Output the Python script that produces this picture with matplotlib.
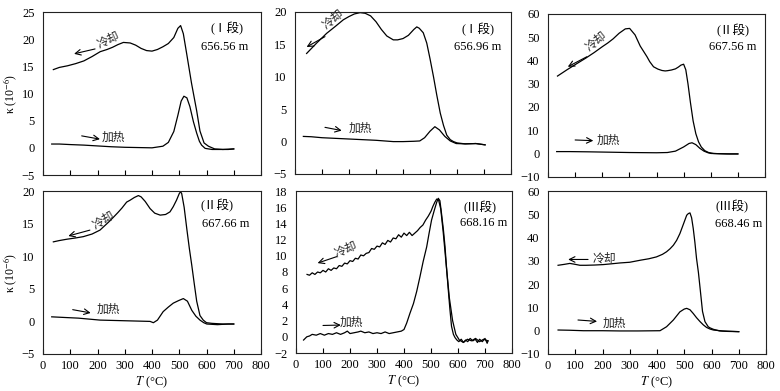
import matplotlib
matplotlib.use("Agg")
import matplotlib.pyplot as plt

plt.rcParams['font.family'] = ['Liberation Serif', 'Noto Sans CJK SC', 'DejaVu Sans']
plt.rcParams['mathtext.fontset'] = 'stix'

# Panel labels
SEGMENTS = ["(Ⅰ段)", "(Ⅰ段)", "(Ⅱ段)", "(Ⅱ段)", "(Ⅲ段)", "(Ⅲ段)"]
DEPTHS = ["656.56 m", "656.96 m", "667.56 m", "667.66 m", "668.16 m", "668.46 m"]

# y-axis ranges / ticks per panel
Y_LIMS = [(-5, 25), (-5, 20), (-10, 60), (-5, 20), (-2, 18), (-10, 60)]
Y_STEPS = [5, 5, 10, 5, 2, 10]

# ---- 656.56 m ----
heat1_T = [32, 60, 100, 150, 200, 250, 300, 350, 400, 440, 460, 480, 495, 507, 517, 528, 539, 552, 564, 574, 582, 595, 620, 650, 680, 700]
heat1_k = [0.7, 0.7, 0.6, 0.5, 0.35, 0.2, 0.1, 0.05, 0.0, 0.3, 1.0, 3.0, 6.0, 8.6, 9.5, 9.2, 7.6, 4.8, 2.7, 1.2, 0.5, -0.1, -0.3, -0.3, -0.3, -0.2]
cool1_T = [700, 660, 630, 607, 591, 576, 564, 545, 527, 515, 505, 495, 480, 460, 440, 420, 400, 380, 360, 340, 320, 295, 275, 255, 235, 210, 180, 150, 120, 90, 60, 38]
cool1_k = [-0.2, -0.3, -0.2, 0.3, 0.9, 3.1, 6.8, 11.9, 17.4, 21.0, 22.5, 22.0, 20.3, 19.2, 18.6, 18.1, 17.8, 17.9, 18.3, 18.9, 19.3, 19.4, 19.0, 18.5, 18.1, 17.7, 16.8, 16.0, 15.5, 15.1, 14.8, 14.4]

# ---- 656.96 m ----
heat2_T = [31, 60, 100, 150, 200, 250, 300, 364, 400, 440, 462, 480, 500, 518, 535, 555, 575, 597, 630, 670, 704]
heat2_k = [0.8, 0.75, 0.6, 0.5, 0.4, 0.3, 0.2, 0.0, 0.0, 0.05, 0.1, 0.6, 1.6, 2.3, 1.8, 0.8, 0.1, -0.3, -0.35, -0.3, -0.5]
cool2_T = [704, 670, 630, 600, 587, 575, 562, 550, 538, 525, 513, 500, 488, 475, 460, 451, 440, 420, 400, 380, 364, 340, 320, 300, 280, 260, 241, 220, 200, 179, 150, 117, 80, 43]
cool2_k = [-0.5, -0.3, -0.35, -0.2, 0.0, 0.3, 1.0, 2.5, 4.4, 7.2, 10.0, 12.8, 15.2, 16.8, 17.5, 17.7, 17.3, 16.4, 15.9, 15.7, 15.7, 16.3, 17.3, 18.5, 19.4, 19.8, 19.9, 19.7, 19.3, 18.8, 17.8, 16.7, 15.2, 13.6]

# ---- 667.56 m ----
heat3_T = [32, 80, 150, 200, 250, 300, 350, 400, 440, 470, 500, 520, 531, 545, 560, 575, 590, 601, 630, 670, 700]
heat3_k = [0.8, 0.8, 0.7, 0.6, 0.5, 0.4, 0.35, 0.3, 0.4, 1.0, 2.8, 4.3, 4.6, 3.8, 2.2, 1.0, 0.3, 0.0, -0.1, -0.2, -0.2]
cool3_T = [700, 660, 630, 610, 592, 578, 565, 555, 545, 535, 525, 516, 508, 500, 490, 481, 470, 455, 440, 432, 420, 405, 389, 375, 365, 352, 340, 321, 301, 285, 262, 240, 220, 201, 170, 139, 100, 70, 35]
cool3_k = [-0.2, -0.2, -0.1, 0.0, 0.4, 1.2, 2.8, 5.0, 8.5, 14.0, 22.0, 30.0, 36.0, 38.4, 38.0, 37.2, 36.4, 35.9, 35.6, 35.5, 35.7, 36.3, 37.3, 39.5, 41.6, 44.0, 46.2, 51.0, 53.8, 53.6, 51.7, 49.3, 47.5, 46.0, 43.4, 41.0, 38.2, 36.0, 33.3]

# ---- 667.66 m ----
heat4_T = [32, 80, 130, 209, 300, 393, 405, 420, 441, 460, 478, 498, 515, 530, 546, 561, 576, 590, 601, 640, 680, 700]
heat4_k = [0.7, 0.6, 0.5, 0.2, 0.1, 0.0, -0.2, 0.2, 1.5, 2.2, 2.8, 3.2, 3.5, 3.1, 1.7, 0.8, 0.2, -0.2, -0.4, -0.5, -0.4, -0.4]
cool4_T = [700, 660, 620, 600, 588, 576, 564, 555, 546, 537, 528, 518, 509, 505, 500, 490, 478, 466, 450, 430, 410, 393, 375, 360, 350, 335, 320, 307, 290, 275, 259, 240, 209, 180, 148, 120, 87, 60, 38]
cool4_k = [-0.4, -0.4, -0.3, -0.2, 0.2, 0.9, 3.1, 5.8, 8.6, 11.2, 14.1, 17.5, 19.6, 19.9, 19.6, 18.6, 17.6, 16.8, 16.4, 16.3, 16.6, 17.3, 18.4, 19.1, 19.3, 19.0, 18.6, 18.3, 17.4, 16.7, 16.0, 15.2, 14.0, 13.4, 13.0, 12.8, 12.6, 12.4, 12.2]

# ---- 668.16 m (noisy record) ----
heat5_T = [28, 40, 50, 60, 75, 90, 105, 120, 135, 150, 165, 180, 190, 200, 215, 230, 240, 255, 270, 285,
           300, 315, 330, 345, 360, 375, 390, 400, 410, 422, 435, 447, 459, 471, 484, 493, 502, 512, 521, 527,
           533, 539, 546, 552, 558, 564, 570, 576, 583, 589, 596, 603, 612, 620, 628, 636, 645, 655, 664, 672,
           680, 690, 700, 708, 711]
heat5_k = [-0.4, 0.0, 0.1, 0.3, 0.2, 0.4, 0.2, 0.4, 0.3, 0.5, 0.3, 0.5, 0.7, 0.4, 0.5, 0.6, 0.7, 0.5, 0.6, 0.4,
           0.5, 0.4, 0.6, 0.4, 0.5, 0.6, 0.7, 0.9, 1.7, 2.9, 4.1, 5.6, 7.4, 9.3, 11.1, 12.8, 14.4, 15.6, 16.6, 17.1,
           16.8, 15.2, 13.2, 11.1, 8.3, 5.8, 3.4, 1.3, 0.3, -0.1, -0.4, -0.6, -0.3, -0.7, -0.4, -0.6, -0.2, -0.5, -0.3, -0.7,
           -0.3, -0.6, -0.2, -0.8, -0.5]
cool5_T = [711, 695, 680, 665, 650, 635, 620, 605, 592, 580, 568, 556, 545, 536, 528, 521, 514, 507, 500,
           490, 480, 470, 460, 450, 440, 430, 420, 410, 400, 390, 380, 370, 360, 350, 340, 330, 320, 310, 300,
           290, 280, 270, 260, 250, 240, 230, 220, 210, 200, 190, 180, 170, 160, 150, 140, 130, 120, 110, 100,
           90, 80, 70, 60, 50, 41]
cool5_k = [-0.5, -0.3, -0.6, -0.2, -0.5, -0.3, -0.7, -0.4, 0.3, 2.0, 4.8, 9.0, 13.0, 15.8, 16.9, 17.0, 16.6, 16.1, 15.5,
           14.9, 14.4, 13.8, 13.5, 13.1, 12.8, 12.5, 12.9, 12.5, 12.8, 12.3, 12.6, 12.1, 12.2, 11.7, 11.9, 11.4, 11.6, 11.1, 11.2,
           10.8, 10.9, 10.4, 10.3, 10.0, 10.1, 9.6, 9.7, 9.3, 9.4, 9.0, 9.1, 8.7, 8.8, 8.4, 8.5, 8.2, 8.4, 8.0, 8.2,
           7.9, 8.0, 7.7, 7.9, 7.6, 7.7]

# ---- 668.46 m ----
heat6_T = [37, 80, 130, 200, 264, 330, 411, 435, 460, 484, 500, 509, 521, 533, 545, 558, 570, 582, 595, 607, 640, 680, 700]
heat6_k = [0.3, 0.2, 0.0, 0.0, -0.1, -0.1, 0.0, 1.7, 4.6, 8.1, 9.3, 9.6, 9.0, 7.4, 5.6, 3.9, 2.5, 1.4, 0.7, 0.3, -0.1, -0.3, -0.4]
cool6_T = [700, 660, 630, 607, 595, 588, 576, 567, 558, 552, 545, 539, 533, 527, 521, 515, 509, 497, 484, 472, 460, 448, 435, 420, 398, 370, 340, 300, 264, 230, 203, 170, 140, 117, 100, 80, 60, 37]
cool6_k = [-0.4, -0.3, -0.1, 0.6, 1.2, 1.7, 3.9, 8.3, 18.4, 25.0, 31.1, 38.0, 43.9, 48.5, 50.6, 50.3, 49.6, 45.8, 41.7, 38.8, 36.7, 35.2, 33.9, 32.8, 31.7, 30.9, 30.3, 29.4, 29.1, 28.7, 28.4, 28.2, 28.1, 28.1, 28.5, 28.9, 28.5, 28.1]

HEAT = [(heat1_T, heat1_k), (heat2_T, heat2_k), (heat3_T, heat3_k), (heat4_T, heat4_k), (heat5_T, heat5_k), (heat6_T, heat6_k)]
COOL = [(cool1_T, cool1_k), (cool2_T, cool2_k), (cool3_T, cool3_k), (cool4_T, cool4_k), (cool5_T, cool5_k), (cool6_T, cool6_k)]

# arrow (tail, head) and text position/rotation, in data coords
COOL_ARROW = [((191, 18.2), (114, 17.3)), ((111, 16.2), (43, 14.6)), ((143, 41.6), (73, 37.3)),
              ((172, 14.0), (93, 13.1)), ((151, 9.9), (80, 9.1)), ((147, 30.6), (74, 30.6))]
COOL_TEXT = [(240, 19.9, 25), (140, 18.9, 38), (178, 48.5, 38), (221, 15.5, 30), (182, 10.8, 22), (208, 31.0, 0)]
HEAT_ARROW = [((142, 2.2), (209, 1.6)), ((111, 2.2), (173, 1.7)), ((100, 5.8), (167, 5.5)),
              ((109, 1.8), (175, 1.3)), ((100, 1.4), (166, 1.45)), ((110, 4.6), (180, 4.0))]
HEAT_TEXT = [(258, 2.0), (241, 2.0), (224, 5.8), (240, 1.8), (207, 1.8), (244, 3.0)]

# label positions in axes fraction
SEG_POS = [(0.844, 0.896), (0.849, 0.893), (0.854, 0.90), (0.80, 0.908), (0.853, 0.90), (0.846, 0.905)]
DEP_POS = [(0.835, 0.785), (0.845, 0.785), (0.85, 0.80), (0.838, 0.80), (0.867, 0.80), (0.876, 0.80)]

# axes rectangles in pixels: left, top, right, bottom
W, H = 780, 391
BOXES = [(43, 12, 261, 175), (295, 12, 511, 174), (548, 14, 765, 176.7),
         (43, 191, 261, 354), (296, 191, 512, 353), (548, 191, 766, 354)]

fig = plt.figure(figsize=(7.8, 3.91), dpi=100)

for i in range(6):
    l, t, r, b = BOXES[i]
    ax = fig.add_axes([l / W, 1 - b / H, (r - l) / W, (b - t) / H])
    ax.plot(HEAT[i][0], HEAT[i][1], color="black", lw=0.9)
    ax.plot(COOL[i][0], COOL[i][1], color="black", lw=0.9)

    ax.set_xlim(0, 800)
    ax.set_ylim(*Y_LIMS[i])
    ax.set_xticks(range(0, 801, 100))
    lo, hi = Y_LIMS[i]
    ax.set_yticks(range(lo, hi + 1, Y_STEPS[i]))
    ax.tick_params(axis="x", direction="in", length=3.5, width=0.8, labelsize=9, pad=4)
    ax.tick_params(axis="y", length=0, labelsize=9, pad=6)
    for s in ax.spines.values():
        s.set_linewidth(0.8)
        s.set_color("#222222")

    if i < 3:
        ax.tick_params(axis="x", labelbottom=False)
    else:
        ax.set_xlabel(r"$\mathit{T}$" + " (°C)", fontsize=9, labelpad=2)

    if i in (0, 3):
        ax.set_ylabel(r"κ (10$^{-6}$)", fontsize=8.5)
        ax.yaxis.set_label_coords(-0.11, 0.5)

    tail, head = COOL_ARROW[i]
    ax.annotate("", xy=head, xytext=tail,
                arrowprops=dict(arrowstyle="->", lw=0.8, color="black", shrinkA=0, shrinkB=0))
    cx, cy, rot = COOL_TEXT[i]
    ax.text(cx, cy, "冷却", fontsize=8.5, rotation=rot, ha="center", va="center",
            family=["Noto Sans CJK SC"], color="#222222")

    tail, head = HEAT_ARROW[i]
    ax.annotate("", xy=head, xytext=tail,
                arrowprops=dict(arrowstyle="->", lw=0.8, color="black", shrinkA=0, shrinkB=0))
    hx, hy = HEAT_TEXT[i]
    ax.text(hx, hy, "加热", fontsize=8.5, ha="center", va="center",
            family=["Noto Sans CJK SC"], color="#222222")

    ax.text(SEG_POS[i][0], SEG_POS[i][1], SEGMENTS[i], transform=ax.transAxes,
            fontsize=9, ha="center", va="center")
    ax.text(DEP_POS[i][0], DEP_POS[i][1], DEPTHS[i], transform=ax.transAxes,
            fontsize=9, ha="center", va="center")

fig.savefig("out.png", dpi=100)
